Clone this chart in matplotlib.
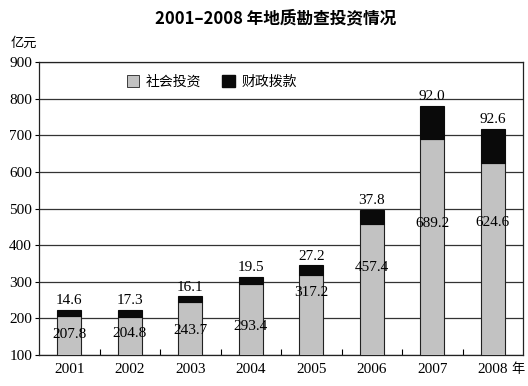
import matplotlib
matplotlib.use("Agg")
import matplotlib.pyplot as plt
import numpy as np
from matplotlib.patches import Patch

years = ["2001", "2002", "2003", "2004", "2005", "2006", "2007", "2008"]
social = [207.8, 204.8, 243.7, 293.4, 317.2, 457.4, 689.2, 624.6]
fiscal = [14.6, 17.3, 16.1, 19.5, 27.2, 37.8, 92.0, 92.6]
social_label_frac = [0.51, 0.57, 0.46, 0.40, 0.78, 0.67, 0.61, 0.69]

serif = ["Liberation Serif", "DejaVu Serif"]
cjk = ["Noto Sans CJK SC", "DejaVu Sans"]

fig = plt.figure(figsize=(5.28, 3.86), dpi=100)
ax = fig.add_axes([39/528, 1-355/386, 484/528, 293/386])

x = np.arange(len(years))
w = 0.4
gray = "#c2c2c2"
ax.bar(x, social, w, color=gray, edgecolor="#222222", linewidth=0.8, zorder=3)
ax.bar(x, fiscal, w, bottom=social, color="#0a0a0a", edgecolor="#0a0a0a", linewidth=0.8, zorder=3)

ax.set_ylim(100, 900)
ax.set_xlim(-0.5, len(years) - 0.5)
ax.set_yticks(range(100, 901, 100))
ax.set_yticklabels([str(v) for v in range(100, 901, 100)], fontfamily=serif, fontsize=11)
ax.yaxis.grid(True, color="#333333", linewidth=0.9, zorder=0)
ax.tick_params(axis="y", length=3, width=0.8, pad=2)

ax.set_xticks(x)
ax.set_xticklabels(years, fontfamily=serif, fontsize=11)
ax.tick_params(axis="x", length=0, pad=6)
ax.set_xticks(np.arange(0.5, len(years) - 0.5, 1), minor=True)
ax.tick_params(axis="x", which="minor", direction="in", length=4, width=0.8)

for s in ax.spines.values():
    s.set_linewidth(0.9)
    s.set_color("#222222")

for i, (s, f) in enumerate(zip(social, fiscal)):
    ax.text(i, s + f + 8, f"{f:.1f}", ha="center", va="bottom", fontfamily=serif, fontsize=11)
    yl = 100 + (s - 100) * social_label_frac[i]
    ax.text(i, yl, f"{s:.1f}", ha="center", va="center", fontfamily=serif, fontsize=11, zorder=4)

fig.text(276/528, 1-18/386, "2001\u20132008 年地质勘查投资情况", ha="center", va="center",
         fontfamily=cjk, fontsize=12, fontweight="bold")
fig.text(11/528, 1-43/386, "亿元", ha="left", va="center", fontfamily=cjk, fontsize=9.5)
fig.text(511/528, 1-369/386, "年", ha="left", va="center", fontfamily=cjk, fontsize=9.5)

handles = [Patch(facecolor=gray, edgecolor="#222222", linewidth=0.6),
           Patch(facecolor="#0a0a0a", edgecolor="#0a0a0a")]
leg = ax.legend(handles, ["社会投资", "财政拨款"], ncol=2, frameon=False,
                loc="center left", bbox_to_anchor=(82/484, 1-(82-62)/293),
                prop={"family": cjk, "size": 10}, handlelength=0.9, handleheight=0.9,
                handletextpad=0.5, columnspacing=1.5, borderaxespad=0)

fig.savefig("out.png", dpi=100)
